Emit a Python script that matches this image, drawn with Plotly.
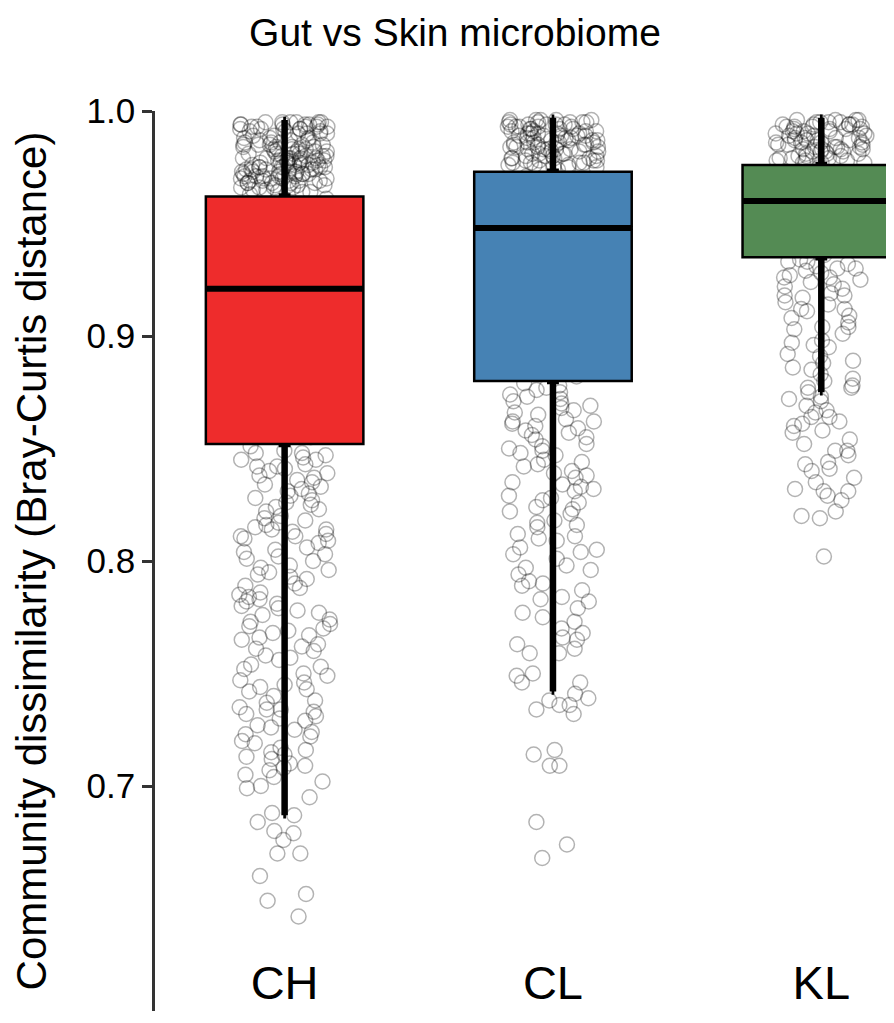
import plotly.graph_objects as go

# ---------------- data ----------------
categories = ["CH", "CL", "KL"]
box_colors = ["#EE2C2C", "#4682B4", "#548B54"]

# Tukey box statistics
q1_vals = [0.852, 0.880, 0.935]
median_vals = [0.921, 0.948, 0.960]
q3_vals = [0.962, 0.973, 0.976]
lower_whisker = [0.687, 0.742, 0.875]
upper_whisker = [0.996, 0.997, 0.997]

# individual dissimilarity values (estimated from the jittered points)
ch_values = [
    0.995, 0.994, 0.995, 0.993, 0.994, 0.992, 0.995, 0.993, 0.991, 0.994, 0.992, 0.990, 0.993, 0.995, 0.991,
    0.989, 0.994, 0.992, 0.990, 0.988, 0.987, 0.986, 0.985, 0.987, 0.984, 0.986, 0.983, 0.985, 0.982, 0.984,
    0.981, 0.983, 0.986, 0.980, 0.982, 0.979, 0.984, 0.981, 0.978, 0.980, 0.977, 0.979, 0.976, 0.978, 0.975,
    0.977, 0.974, 0.976, 0.973, 0.975, 0.972, 0.974, 0.971, 0.973, 0.970, 0.972, 0.969, 0.971, 0.968, 0.970,
    0.967, 0.969, 0.966, 0.968, 0.965, 0.967, 0.964, 0.966, 0.963, 0.965, 0.978, 0.981, 0.976, 0.983, 0.979,
    0.974, 0.971, 0.985, 0.977, 0.972, 0.969, 0.975, 0.980, 0.973, 0.968, 0.982, 0.970, 0.966, 0.978, 0.974,
    0.964, 0.976, 0.971, 0.979, 0.967, 0.983, 0.975, 0.972, 0.969, 0.977, 0.988, 0.986, 0.990, 0.984, 0.989,
    0.987, 0.991, 0.985, 0.988, 0.992, 0.994, 0.995, 0.993, 0.981, 0.976, 0.972, 0.968, 0.974, 0.979, 0.983,
    0.970, 0.966, 0.973, 0.977, 0.980, 0.975, 0.971, 0.967, 0.978, 0.982, 0.969, 0.964, 0.976, 0.973, 0.979,
    0.985, 0.972, 0.968, 0.975, 0.970, 0.995, 0.993, 0.994, 0.992, 0.990,
    0.961, 0.958, 0.955, 0.949, 0.947, 0.944, 0.939, 0.936, 0.931, 0.928, 0.924, 0.921, 0.918, 0.913, 0.909,
    0.905, 0.902, 0.897, 0.893, 0.888, 0.884, 0.879, 0.874, 0.870, 0.866, 0.861, 0.858, 0.855, 0.953, 0.942,
    0.933, 0.926, 0.916, 0.899, 0.882, 0.868,
    0.851, 0.849, 0.848, 0.846, 0.845, 0.843, 0.842, 0.842, 0.840, 0.838, 0.837, 0.835, 0.834, 0.833, 0.831,
    0.829, 0.828, 0.827, 0.824, 0.823, 0.822, 0.819, 0.818, 0.816, 0.815, 0.814, 0.813, 0.812, 0.811, 0.810,
    0.808, 0.806, 0.805, 0.804, 0.801, 0.800, 0.798, 0.797, 0.796, 0.793, 0.792, 0.790, 0.789, 0.786, 0.785,
    0.784, 0.782, 0.780, 0.779, 0.777, 0.776, 0.774, 0.772, 0.771, 0.769, 0.768, 0.766, 0.765, 0.763, 0.762,
    0.760, 0.757, 0.756, 0.754, 0.753, 0.750, 0.749, 0.747, 0.746, 0.744, 0.742, 0.740, 0.738, 0.737, 0.735,
    0.734, 0.733, 0.731, 0.730, 0.729, 0.727, 0.725, 0.724, 0.722, 0.720, 0.719, 0.717, 0.715, 0.713, 0.712,
    0.710, 0.708, 0.707, 0.705, 0.704, 0.702, 0.700,
    0.848, 0.845, 0.841, 0.836, 0.830, 0.825, 0.820, 0.814, 0.809, 0.802, 0.795, 0.788, 0.781, 0.773, 0.767,
    0.758, 0.745, 0.734, 0.726, 0.716, 0.709, 0.847, 0.839, 0.832, 0.826, 0.817, 0.811, 0.803, 0.794, 0.783,
    0.778, 0.770, 0.761, 0.752, 0.743, 0.732, 0.723, 0.714,
    0.699, 0.695, 0.688, 0.687, 0.684, 0.680, 0.679, 0.676, 0.670, 0.670, 0.660, 0.652, 0.649, 0.642,
]

cl_values = [
    0.996, 0.995, 0.996, 0.994, 0.995, 0.993, 0.996, 0.994, 0.992, 0.995, 0.993, 0.991, 0.994, 0.990, 0.992,
    0.996, 0.989, 0.993, 0.991, 0.988, 0.990, 0.987, 0.989, 0.986, 0.988, 0.985, 0.987, 0.984, 0.986, 0.983,
    0.985, 0.982, 0.984, 0.981, 0.983, 0.980, 0.982, 0.979, 0.981, 0.978, 0.980, 0.977, 0.979, 0.976, 0.978,
    0.975, 0.977, 0.974, 0.976, 0.975, 0.992, 0.989, 0.986, 0.983, 0.979, 0.990, 0.985, 0.981, 0.977, 0.988,
    0.994, 0.991, 0.987, 0.984, 0.980, 0.976, 0.993, 0.989, 0.986, 0.982, 0.978, 0.974, 0.995, 0.990, 0.984,
    0.979, 0.987, 0.983, 0.991, 0.985, 0.996, 0.994, 0.992, 0.988, 0.986, 0.983, 0.980, 0.977, 0.975, 0.990,
    0.995, 0.993, 0.989, 0.985, 0.981, 0.978,
    0.971, 0.968, 0.965, 0.961, 0.958, 0.955, 0.951, 0.949, 0.946, 0.943, 0.940, 0.936, 0.932, 0.928, 0.925,
    0.921, 0.917, 0.913, 0.909, 0.905, 0.901, 0.897, 0.893, 0.889, 0.885, 0.882, 0.962, 0.953, 0.944, 0.930,
    0.879, 0.878, 0.876, 0.875, 0.873, 0.872, 0.871, 0.869, 0.868, 0.867, 0.865, 0.863, 0.862, 0.861, 0.860,
    0.858, 0.857, 0.856, 0.854, 0.852, 0.851, 0.850, 0.848, 0.847, 0.845, 0.844, 0.842, 0.840, 0.839, 0.837,
    0.835, 0.834, 0.833, 0.831, 0.829, 0.828, 0.826, 0.824, 0.823, 0.821, 0.818, 0.817, 0.815, 0.812, 0.811,
    0.809, 0.806, 0.805, 0.803, 0.801, 0.798, 0.796, 0.794, 0.791, 0.789, 0.787, 0.784, 0.782, 0.779, 0.777,
    0.773, 0.770, 0.768, 0.765, 0.763, 0.759,
    0.877, 0.874, 0.870, 0.866, 0.862, 0.859, 0.855, 0.849, 0.843, 0.838, 0.832, 0.827, 0.822, 0.816, 0.810,
    0.804, 0.797, 0.790, 0.783, 0.775, 0.766,
    0.761, 0.759, 0.750, 0.749, 0.746, 0.746, 0.741, 0.739, 0.738, 0.736, 0.736, 0.734, 0.732, 0.716, 0.714,
    0.709, 0.709, 0.684, 0.674, 0.668,
]

kl_values = [
    0.996, 0.995, 0.996, 0.994, 0.995, 0.993, 0.996, 0.994, 0.992, 0.995, 0.993, 0.991, 0.994, 0.990, 0.992,
    0.989, 0.993, 0.991, 0.988, 0.990, 0.987, 0.989, 0.986, 0.988, 0.985, 0.987, 0.984, 0.986, 0.983, 0.985,
    0.982, 0.984, 0.981, 0.983, 0.980, 0.982, 0.979, 0.981, 0.978, 0.980, 0.977, 0.979, 0.977, 0.978, 0.994,
    0.990, 0.986, 0.982, 0.978, 0.992, 0.988, 0.984, 0.980, 0.996, 0.989, 0.985, 0.981, 0.993, 0.987, 0.983,
    0.995, 0.991, 0.988, 0.984, 0.979, 0.994, 0.990, 0.986, 0.982, 0.977, 0.992, 0.987, 0.983,
    0.975, 0.973, 0.971, 0.969, 0.967, 0.965, 0.963, 0.962, 0.960, 0.958, 0.956, 0.954, 0.952, 0.950, 0.948,
    0.946, 0.944, 0.942, 0.940, 0.938, 0.936, 0.970, 0.961, 0.953, 0.945,
    0.934, 0.933, 0.932, 0.931, 0.930, 0.929, 0.928, 0.926, 0.926, 0.925, 0.923, 0.922, 0.921, 0.919, 0.918,
    0.917, 0.915, 0.914, 0.912, 0.911, 0.909, 0.908, 0.906, 0.904, 0.903, 0.901, 0.898, 0.897, 0.895, 0.892,
    0.891, 0.889, 0.886, 0.885, 0.883, 0.881, 0.878, 0.877, 0.875, 0.873,
    0.933, 0.930, 0.927, 0.924, 0.918, 0.912, 0.904, 0.896, 0.888, 0.880,
    0.877, 0.871, 0.867, 0.864, 0.862, 0.860, 0.857, 0.854, 0.849, 0.849, 0.852, 0.847, 0.844, 0.840, 0.841,
    0.843, 0.837, 0.835, 0.832, 0.831, 0.831, 0.829, 0.827, 0.820, 0.819, 0.822, 0.802, 0.872, 0.869, 0.866,
    0.864, 0.861, 0.858,
]

title_text = "Gut vs Skin microbiome"
y_title = "Community dissimilarity (Bray-Curtis distance)"
y_ticks = [0.6, 0.7, 0.8, 0.9, 1.0]
y_ticktext = ["0.6", "0.7", "0.8", "0.9", "1.0"]

# ---------------- figure ----------------
FONT = "Liberation Sans, Arial, Helvetica, sans-serif"
BOX_W = 0.587

fig = go.Figure()

# jittered raw points (drawn first, behind the boxes)
pts_x = ["CH"] * len(ch_values) + ["CL"] * len(cl_values) + ["KL"] * len(kl_values)
pts_y = ch_values + cl_values + kl_values
fig.add_trace(go.Box(
    x=pts_x, y=pts_y,
    boxpoints="all", jitter=1, pointpos=0, width=0.34,
    line=dict(width=0, color="rgba(0,0,0,0)"),
    fillcolor="rgba(0,0,0,0)",
    marker=dict(symbol="circle-open", size=15, color="rgba(0,0,0,0.3)",
                line=dict(width=1.5)),
    hoverinfo="skip", showlegend=False,
))

# thick whiskers (narrow box hidden under the coloured box)
fig.add_trace(go.Box(
    x=categories, q1=q1_vals, median=median_vals, q3=q3_vals,
    lowerfence=lower_whisker, upperfence=upper_whisker,
    width=0.02, line=dict(width=6.5, color="black"), fillcolor="black",
    boxpoints=False, hoverinfo="skip", showlegend=False,
))

# coloured boxes
for i, cat in enumerate(categories):
    fig.add_trace(go.Box(
        x=[cat], q1=[q1_vals[i]], median=[median_vals[i]], q3=[q3_vals[i]],
        lowerfence=[q1_vals[i]], upperfence=[q3_vals[i]],
        width=BOX_W, line=dict(width=2.5, color="black"), fillcolor=box_colors[i],
        boxpoints=False, hoverinfo="skip", showlegend=False,
    ))

# thick median bars
fig.add_trace(go.Box(
    x=categories, q1=median_vals, median=median_vals, q3=median_vals,
    lowerfence=median_vals, upperfence=median_vals,
    width=BOX_W, line=dict(width=6, color="black"), fillcolor="black",
    boxpoints=False, hoverinfo="skip", showlegend=False,
))

fig.update_layout(
    width=894, height=1023,
    margin=dict(l=145, r=1, t=103, b=20),
    paper_bgcolor="white", plot_bgcolor="white",
    boxmode="overlay",
    font=dict(family=FONT, color="black"),
    title=dict(text=title_text, x=0.5, xref="container", xanchor="center",
               y=1 - 24 / 1023, yref="container", yanchor="middle",
               font=dict(size=39, family=FONT, color="black")),
    xaxis=dict(
        type="category", categoryorder="array", categoryarray=categories,
        range=[-0.483, 2.297],
        showline=False, showgrid=False, zeroline=False, ticks="",
        ticklabelposition="inside",
        tickfont=dict(size=47, family=FONT, color="black"),
    ),
    yaxis=dict(
        range=[0.6, 1.0],
        tickvals=y_ticks, ticktext=y_ticktext,
        showline=True, linewidth=2.5, linecolor="#333333",
        ticks="outside", ticklen=10, tickwidth=2.5, tickcolor="#333333",
        showgrid=False, zeroline=False,
        tickfont=dict(size=35, family=FONT, color="black"),
        title=dict(text=y_title, standoff=48,
                   font=dict(size=42, family=FONT, color="black")),
    ),
)

fig.write_html("out.html", config={"displayModeBar": False})
